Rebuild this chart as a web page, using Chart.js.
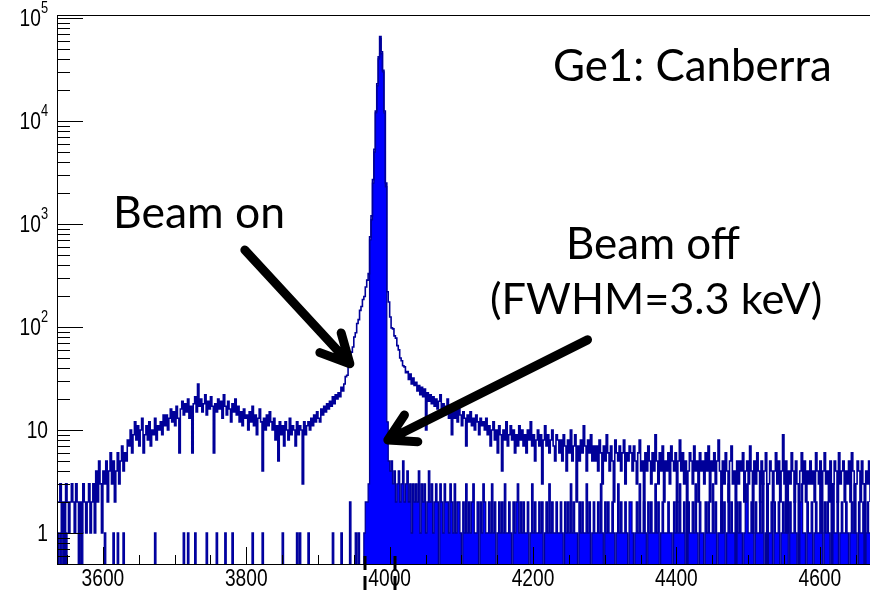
<!DOCTYPE html>
<html lang="en">
<head>
<meta charset="UTF-8">
<title>Ge1: Canberra</title>
<script src="https://cdn.jsdelivr.net/npm/chart.js"></script>
<style>
  html, body { margin: 0; padding: 0; background: #fff; }
</style>
</head>
<body>
<canvas id="spec" width="870" height="590"></canvas>
<script>
// histogram binning in keV
const binStart = 3536;
const binWidth = 2;

// beam on, counts per bin (one row = 50 keV)
const beamOnLow = [
  2,2,3,1,2,0,3,2,1,2,3,2,1,3,2,0,2,1,3,2,1,2,3,1,2,
  3,1,4,2,5,3,1,4,3,5,2,4,6,3,5,2,4,6,3,5,7,4,6,5,8,
  7,10,6,9,12,8,11,7,10,13,6,9,11,8,12,7,10,9,13,8,11,10,12,9,14,
  11,14,10,13,16,12,15,11,17,13,6,16,19,14,18,15,20,13,17,6,18,21,15,28,17,
  20,15,18,22,14,19,16,21,17,6,18,15,20,16,19,13,22,17,14,19,16,12,18,15,20,
  14,17,12,15,11,16,13,14,10,15,12,17,11,14,9,13,16,12,4,13,10,14,11,15,12,
  10,13,8,11,5,12,9,11,7,12,10,8,13,9,11,10,7,12,9,11,10,3,12,9,11,
  12,10,13,11,14,12,15,13,12,16,14,17,15,18,16,19,17,21,18,22,20,23,21,26,24
];
const beamOnPeak = [
  28,33,34,42,47,57,64,80,88,108,118,145,158,185,198,245,285,330,750,1200,2700,5300,12500,23000,42000,
  66000,47000,31000,12500,2500,220,175,125,98,96,82,78,66,60,50,47,42,41,36,37,31,35,28,32,27
];
const beamOnHigh = [
  29,24,27,22,26,21,25,10,23,19,22,18,21,17,20,16,19,22,15,18,14,17,20,13,16,
  9,15,13,17,12,16,14,11,15,13,7,14,12,15,11,13,10,14,12,9,13,11,12,10,13,
  9,11,7,10,12,8,10,6,11,9,4,10,8,12,7,9,11,8,10,6,9,7,11,8,10,
  7,9,6,10,8,12,7,9,5,8,10,7,9,3,8,11,7,9,6,8,10,7,5,9,8,
  6,8,5,9,7,4,8,6,10,5,7,9,2,7,5,8,6,11,7,4,8,6,9,5,7,
  5,7,4,8,6,3,7,5,9,6,4,7,5,2,8,6,5,7,4,6,8,3,6,5,7,
  6,4,7,5,3,6,8,4,5,1,6,4,7,5,3,6,4,9,5,3,6,4,7,2,5,
  4,6,3,7,5,4,6,2,5,8,4,6,3,5,0,4,6,5,3,7,4,5,2,6,4,
  5,3,6,4,7,2,5,4,6,3,5,8,4,1,5,3,6,4,2,5,7,3,4,0,5,
  3,5,4,6,2,4,5,3,7,4,1,5,3,6,4,2,5,3,4,6,0,3,5,4,2,
  4,6,3,5,2,4,9,3,5,1,4,3,6,4,2,5,3,0,4,6,3,5,2,4,3,
  5,3,4,2,6,4,3,5,1,4,6,3,4,2,5,0,3,5,4,2,6,3,4,5,2,
  4,3,5,2,6,4,1,3,5,4,2,5,3,0,4,3,5,2
];

// beam off, counts per bin
const beamOffLow = [
  1,0,1,0,1,0,1,0,0,0,0,0,0,0,0,1,0,1,0,0,0,0,0,0,0,
  0,0,0,0,0,0,0,0,1,0,0,0,0,0,1,0,0,1,0,0,0,1,0,0,0,
  0,0,0,0,0,0,0,0,0,0,0,0,0,0,0,0,0,0,1,0,0,0,0,0,0,
  0,0,0,0,0,0,0,0,0,0,0,0,0,1,0,0,1,0,0,0,0,1,0,0,0,
  0,0,0,0,1,0,0,0,0,0,0,1,0,0,0,0,0,1,0,0,0,0,1,0,0,
  0,0,0,0,0,0,0,0,0,0,0,1,0,0,0,0,0,0,1,0,0,0,0,0,0,
  0,0,0,0,0,0,0,1,0,0,0,0,0,0,0,0,0,1,0,1,0,0,0,0,0,
  1,0,0,0,0,0,0,0,0,0,0,0,0,0,0,0,0,1,0,0,0,0,0,1,0
];
const beamOffPeak = [
  0,0,0,0,2,0,0,0,1,0,1,0,0,0,1,2,2,3,700,1100,2500,5000,12000,22000,40000,
  63000,45000,30000,12000,2300,12,5,4,5,3,4,2,3,4,2,3,5,2,3,4,2,3,1,3,2
];
const beamOffHigh = [
  3,2,4,1,3,2,3,1,2,4,2,3,1,2,3,2,0,3,2,1,3,2,2,1,3,
  2,1,3,1,2,2,1,0,2,1,3,1,2,1,2,3,1,1,2,0,2,1,3,2,1,
  1,2,1,3,1,2,0,1,2,1,2,1,3,1,1,2,1,0,2,1,2,3,1,2,1,
  2,1,1,2,0,1,3,1,2,1,1,2,1,2,0,1,2,1,3,1,2,1,1,2,1,
  1,2,1,0,2,1,2,1,3,1,2,1,1,0,2,1,2,1,1,3,1,2,0,1,2,
  1,1,2,1,3,1,0,2,1,2,1,1,2,1,0,1,3,1,2,1,1,2,1,0,2,
  2,1,0,1,2,1,3,1,1,2,1,0,2,1,2,1,1,3,1,2,0,1,2,1,1,
  1,2,1,1,0,2,1,2,1,3,1,1,2,0,1,2,1,1,2,1,3,1,0,2,1,
  1,0,2,1,2,1,1,3,1,2,0,1,1,2,1,2,0,1,3,1,2,1,1,0,2,
  1,2,1,0,1,2,3,1,1,2,1,0,2,1,1,2,1,3,0,1,2,1,1,2,0,
  2,1,1,2,0,1,2,1,3,1,0,2,1,1,2,1,0,1,2,3,1,1,0,2,1,
  1,2,0,1,2,1,1,3,1,0,2,1,2,1,0,1,3,1,1,2,0,1,2,1,1,
  2,1,0,1,2,1,3,1,0,2,1,1,2,0,1,2,1,1
];

const xTickLabels = [3600, 3800, 4000, 4200, 4400, 4600];
const yTickLabels = [1, 10, 100, 1000, 10000, 100000];

const beamOn = beamOnLow.concat(beamOnPeak, beamOnHigh);
const beamOff = beamOffLow.concat(beamOffPeak, beamOffHigh);

// empty bins sit below the axis so the step outline drops through the frame
const FLOOR = 0.1;

function stepPoints(counts) {
  const pts = [{ x: binStart, y: FLOOR }];
  counts.forEach((c, i) => pts.push({ x: binStart + i * binWidth, y: c > 0 ? c : FLOOR }));
  const end = binStart + counts.length * binWidth;
  const last = counts[counts.length - 1];
  pts.push({ x: end, y: last > 0 ? last : FLOOR });
  pts.push({ x: end, y: FLOOR });
  return pts;
}

function supLabel(ctx, base, exp, right, py) {
  ctx.save();
  ctx.font = '16px "Liberation Sans", Arial, sans-serif';
  const ew = ctx.measureText(exp).width * 0.8;
  ctx.restore();

  ctx.save();
  ctx.translate(right - ew, py);
  ctx.scale(0.8, 1);
  ctx.font = '24px "Liberation Sans", Arial, sans-serif';
  ctx.textAlign = 'right';
  ctx.textBaseline = 'middle';
  ctx.fillText(base, 0, 1);
  ctx.restore();

  ctx.save();
  ctx.translate(right - ew, py - 9);
  ctx.scale(0.8, 1);
  ctx.font = '16px "Liberation Sans", Arial, sans-serif';
  ctx.textAlign = 'left';
  ctx.textBaseline = 'middle';
  ctx.fillText(exp, 0, 0);
  ctx.restore();
}

function arrow(ctx, x0, y0, x1, y1, len, spread) {
  const back = Math.atan2(y0 - y1, x0 - x1);
  ctx.beginPath();
  ctx.moveTo(x0, y0);
  ctx.lineTo(x1, y1);
  ctx.moveTo(x1 + len * Math.cos(back + spread), y1 + len * Math.sin(back + spread));
  ctx.lineTo(x1, y1);
  ctx.lineTo(x1 + len * Math.cos(back - spread), y1 + len * Math.sin(back - spread));
  ctx.stroke();
}

function fitText(ctx, text, left, baseline, width, family) {
  ctx.font = '40px ' + family;
  const size = 40 * width / ctx.measureText(text).width;
  ctx.font = size.toFixed(1) + 'px ' + family;
  ctx.textAlign = 'left';
  ctx.textBaseline = 'alphabetic';
  ctx.fillText(text, left, baseline);
}

const rootFrame = {
  id: 'rootFrame',
  afterDraw(chart) {
    const { ctx, chartArea: a, scales: { x, y } } = chart;
    ctx.save();
    ctx.strokeStyle = '#000';
    ctx.lineWidth = 1;
    ctx.strokeRect(a.left + 0.5, a.top + 0.5, a.right - a.left, a.bottom - a.top);

    // log axis ticks: decades long, 2..9 short
    ctx.beginPath();
    for (let e = -1; e <= 5; e++) {
      for (let m = 1; m <= 9; m++) {
        const v = m * Math.pow(10, e);
        if (v < y.min || v > y.max) continue;
        const py = Math.round(y.getPixelForValue(v)) + 0.5;
        ctx.moveTo(a.left, py);
        ctx.lineTo(a.left + (m === 1 ? 26 : 13), py);
      }
    }
    // energy axis ticks every 50 keV
    for (let k = 3550; k <= x.max; k += 50) {
      const px = Math.round(x.getPixelForValue(k)) + 0.5;
      ctx.moveTo(px, a.bottom);
      ctx.lineTo(px, a.bottom - (k % 200 === 0 ? 17 : 9));
    }
    ctx.stroke();

    ctx.fillStyle = '#000';
    yTickLabels.forEach(v => {
      const py = y.getPixelForValue(v);
      if (v < 100) {
        ctx.save();
        ctx.translate(48, py);
        ctx.scale(0.8, 1);
        ctx.font = '24px "Liberation Sans", Arial, sans-serif';
        ctx.textAlign = 'right';
        ctx.textBaseline = 'middle';
        ctx.fillText(String(v), 0, 1);
        ctx.restore();
      } else {
        supLabel(ctx, '10', String(Math.round(Math.log10(v))), 48, py);
      }
    });
    xTickLabels.forEach(v => {
      ctx.save();
      ctx.translate(x.getPixelForValue(v), a.bottom + 15);
      ctx.scale(0.8, 1);
      ctx.font = '24px "Liberation Sans", Arial, sans-serif';
      ctx.textAlign = 'center';
      ctx.textBaseline = 'middle';
      ctx.fillText(String(v), 0, 0);
      ctx.restore();
    });

    // window markers around the line
    ctx.lineWidth = 3;
    ctx.setLineDash([14, 6]);
    [3965, 4007].forEach(k => {
      const px = Math.round(x.getPixelForValue(k));
      ctx.beginPath();
      ctx.moveTo(px, a.bottom - 8);
      ctx.lineTo(px, 590);
      ctx.stroke();
    });
    ctx.setLineDash([]);

    // labels and arrows
    const fam = 'Lato, "Open Sans", sans-serif';
    fitText(ctx, 'Ge1: Canberra', 553, 81, 279, fam);
    fitText(ctx, 'Beam on', 113, 228, 172, fam);
    fitText(ctx, 'Beam off', 566, 259, 174, fam);
    fitText(ctx, '(FWHM=3.3 keV)', 490, 314, 332, fam);

    ctx.lineWidth = 9;
    ctx.lineCap = 'round';
    ctx.lineJoin = 'round';
    ctx.strokeStyle = '#000';
    arrow(ctx, x.getPixelForValue(3798), y.getPixelForValue(560),
      x.getPixelForValue(3944.5), y.getPixelForValue(44), 32, 0.47);
    arrow(ctx, x.getPixelForValue(4276), y.getPixelForValue(75),
      x.getPixelForValue(3997.5), y.getPixelForValue(8), 30, 0.52);
    ctx.restore();
  }
};

new Chart(document.getElementById('spec'), {
  type: 'line',
  data: {
    datasets: [
      {
        label: 'Beam on',
        data: stepPoints(beamOn),
        stepped: 'before',
        borderColor: '#000099',
        borderWidth: 1.6,
        fill: false,
        clip: 0
      },
      {
        label: 'Beam off',
        data: stepPoints(beamOff),
        stepped: 'before',
        borderColor: '#000099',
        backgroundColor: '#0000ff',
        borderWidth: 1.3,
        fill: 'start',
        clip: 0
      }
    ]
  },
  options: {
    responsive: false,
    animation: false,
    layout: { padding: { left: 57, right: 0, top: 15, bottom: 26 } },
    elements: { point: { radius: 0 }, line: { tension: 0 } },
    scales: {
      x: { type: 'linear', min: 3536, max: 4670, display: false },
      y: { type: 'logarithmic', min: 0.5, max: 1.07e5, display: false }
    },
    plugins: { legend: { display: false }, tooltip: { enabled: false } }
  },
  plugins: [rootFrame]
});
</script>
</body>
</html>
